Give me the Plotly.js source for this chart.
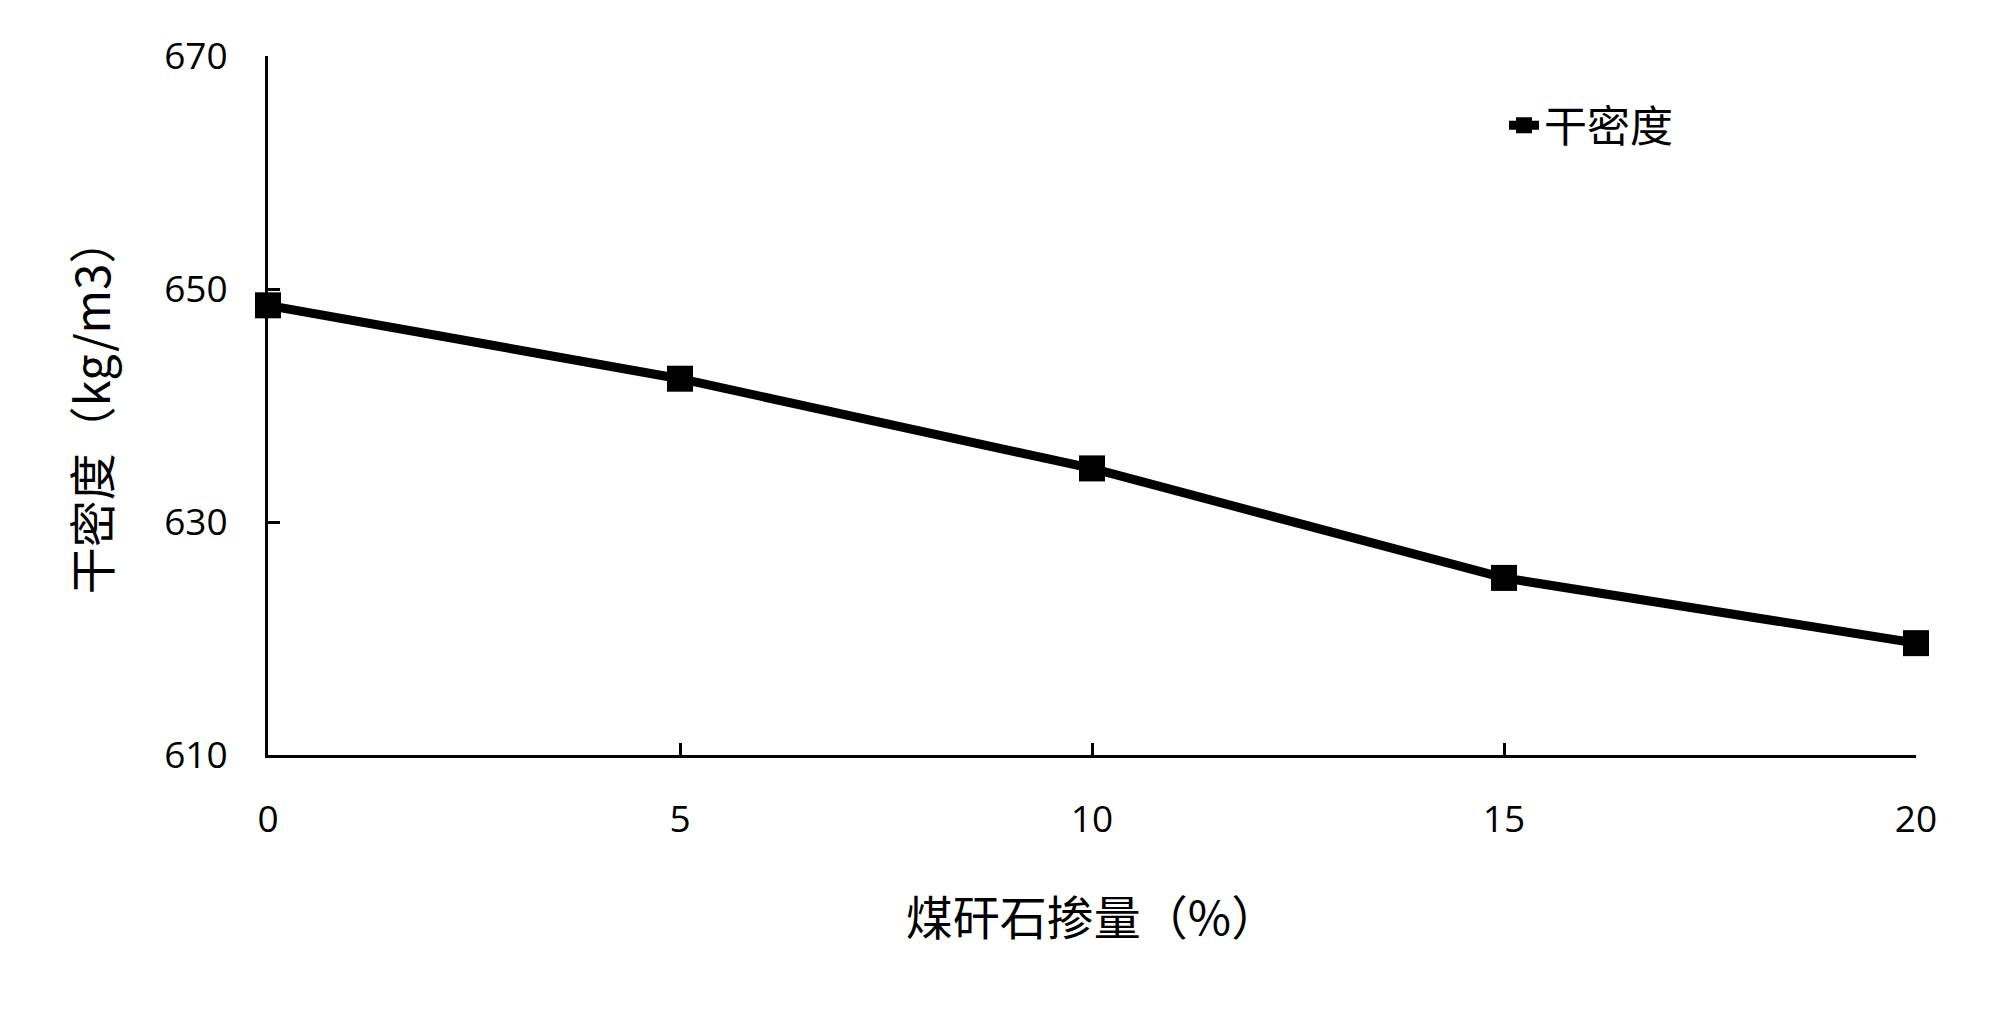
<!DOCTYPE html>
<html>
<head>
<meta charset="utf-8">
<script src="https://cdn.plot.ly/plotly-3.0.1.min.js"></script>
<style>html,body{margin:0;padding:0;background:#fff;}#chart{width:1999px;height:1016px;}</style>
</head>
<body>
<div id="chart"></div>
<script>
const xValues = [0, 5, 10, 15, 20];
const dryDensity = [648.6, 642.3, 634.6, 625.2, 619.6];
const seriesName = "干密度";
const xTitle = "煤矸石掺量（%）";
const yTitle = "干密度（kg/m3）";
const yTicks = [610, 630, 650, 670];

const cjk = '"Noto Sans CJK SC", "Open Sans", sans-serif';
const num = '"Open Sans", "Liberation Sans", sans-serif';

Plotly.newPlot('chart', [{
  x: xValues,
  y: dryDensity,
  name: seriesName,
  type: 'scatter',
  mode: 'lines+markers',
  cliponaxis: false,
  line: {color: '#000', width: 9},
  marker: {symbol: 'square', size: 26, color: '#000'}
}], {
  width: 1999, height: 1016,
  paper_bgcolor: '#fff', plot_bgcolor: '#fff',
  margin: {l: 268, r: 83, t: 56, b: 261},
  showlegend: true,
  legend: {
    x: 0.75, y: 0.901, xanchor: 'left', yanchor: 'middle',
    font: {family: cjk, size: 43, color: '#000'},
    bgcolor: 'rgba(0,0,0,0)'
  },
  xaxis: {
    range: [0, 20], tickvals: xValues, ticktext: xValues.map(String),
    showline: true, linecolor: '#000', linewidth: 3,
    ticks: 'inside', ticklen: 12, tickwidth: 3, tickcolor: '#000',
    showgrid: false, zeroline: false,
    tickfont: {family: num, size: 37, color: '#000'},
    ticklabelstandoff: 30,
    title: {text: xTitle, font: {family: cjk, size: 47, color: '#000'}, standoff: 60}
  },
  yaxis: {
    range: [610, 670], tickvals: yTicks,
    showline: true, linecolor: '#000', linewidth: 3,
    ticks: 'inside', ticklen: 12, tickwidth: 3, tickcolor: '#000',
    showgrid: false, zeroline: false,
    tickfont: {family: num, size: 37, color: '#000'},
    ticklabelstandoff: 30,
    title: {text: yTitle, font: {family: cjk, size: 47, color: '#000'}, standoff: 39}
  }
}, {displayModeBar: false, staticPlot: true});
</script>
</body>
</html>
